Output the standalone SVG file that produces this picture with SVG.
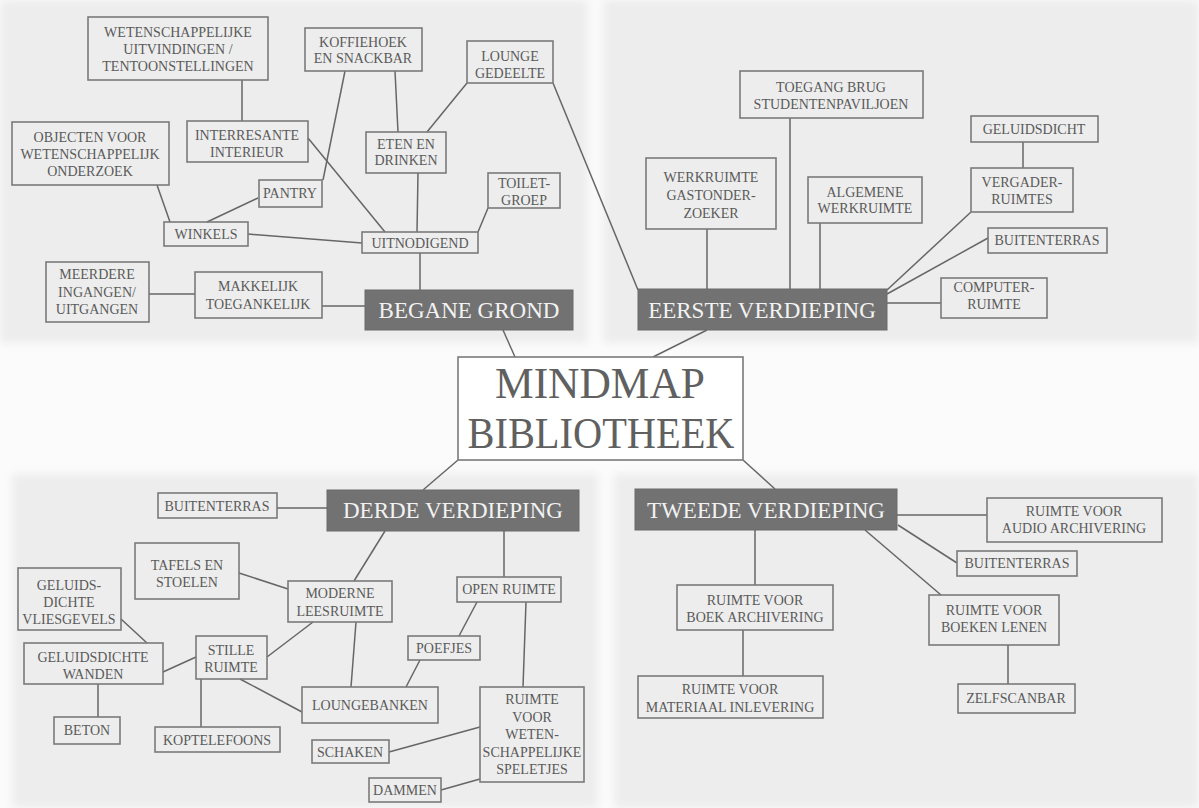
<svg xmlns="http://www.w3.org/2000/svg" width="1199" height="808" viewBox="0 0 1199 808">
<defs>
<filter id="soft" x="-5%" y="-5%" width="110%" height="110%"><feGaussianBlur stdDeviation="4"/></filter>
<style>
.bx{fill:none;stroke:#7a7a7a;stroke-width:1.6}
.dk{fill:#727272;stroke:#6a6a6a;stroke-width:1}
.t{font-family:"Liberation Serif",serif;font-size:14px;fill:#5a5a5a;text-anchor:middle}
.tk{font-family:"Liberation Serif",serif;font-size:23px;fill:#f2f2f2;text-anchor:middle}
.tm{font-family:"Liberation Serif",serif;font-size:44px;fill:#606060;text-anchor:middle}
#connectors line{stroke:#666;stroke-width:1.5}
</style>
</defs>
<rect x="0" y="0" width="1199" height="808" fill="#fbfbfb"/>
<g id="panels" filter="url(#soft)" fill="#ededed">
<rect x="0" y="0" width="588" height="343"/>
<rect x="603" y="0" width="596" height="343"/>
<rect x="12" y="474" width="586" height="334"/>
<rect x="614" y="474" width="585" height="334"/>
</g>
<g id="connectors">
<line x1="242" y1="80" x2="242" y2="121"/>
<line x1="157" y1="185" x2="170" y2="222"/>
<line x1="258" y1="198" x2="207" y2="222"/>
<line x1="248" y1="234" x2="362" y2="243"/>
<line x1="149" y1="294" x2="195" y2="294"/>
<line x1="322" y1="306" x2="365" y2="306"/>
<line x1="345" y1="71" x2="323" y2="180"/>
<line x1="395" y1="71" x2="398" y2="132"/>
<line x1="467" y1="83" x2="427" y2="132"/>
<line x1="308" y1="138" x2="385" y2="232"/>
<line x1="418" y1="173" x2="417" y2="232"/>
<line x1="488" y1="208" x2="478" y2="232"/>
<line x1="420" y1="253" x2="420" y2="290"/>
<line x1="553" y1="83" x2="638" y2="290"/>
<line x1="503" y1="330" x2="515" y2="357"/>
<line x1="707" y1="229" x2="707" y2="289"/>
<line x1="790" y1="118" x2="790" y2="289"/>
<line x1="820" y1="223" x2="820" y2="289"/>
<line x1="1023" y1="142" x2="1023" y2="168"/>
<line x1="971" y1="212" x2="887" y2="290"/>
<line x1="988" y1="238" x2="887" y2="294"/>
<line x1="941" y1="303" x2="887" y2="303"/>
<line x1="707" y1="330" x2="653" y2="357"/>
<line x1="458" y1="460" x2="423" y2="490"/>
<line x1="743" y1="460" x2="775" y2="489"/>
<line x1="277" y1="508" x2="327" y2="508"/>
<line x1="239" y1="573" x2="288" y2="589"/>
<line x1="121" y1="619" x2="147" y2="643"/>
<line x1="163" y1="672" x2="196" y2="657"/>
<line x1="267" y1="657" x2="313" y2="622"/>
<line x1="98" y1="684" x2="98" y2="717"/>
<line x1="201" y1="679" x2="201" y2="727"/>
<line x1="240" y1="679" x2="302" y2="712"/>
<line x1="385" y1="531" x2="354" y2="581"/>
<line x1="504" y1="531" x2="504" y2="577"/>
<line x1="477" y1="602" x2="459" y2="636"/>
<line x1="420" y1="660" x2="406" y2="687"/>
<line x1="356" y1="622" x2="351" y2="687"/>
<line x1="526" y1="602" x2="523" y2="687"/>
<line x1="480" y1="727" x2="389" y2="752"/>
<line x1="480" y1="779" x2="441" y2="790"/>
<line x1="755" y1="530" x2="755" y2="585"/>
<line x1="743" y1="630" x2="743" y2="676"/>
<line x1="897" y1="515" x2="987" y2="515"/>
<line x1="898" y1="525" x2="957" y2="563"/>
<line x1="865" y1="530" x2="941" y2="595"/>
<line x1="1008" y1="645" x2="1008" y2="684"/>
</g>

<g id="wetenschappelijke"><rect class="bx" x="88" y="17" width="180" height="63"/><text class="t" x="178" y="37">WETENSCHAPPELIJKE</text><text class="t" x="178" y="54">UITVINDINGEN /</text><text class="t" x="178" y="71">TENTOONSTELLINGEN</text></g>
<g id="objecten"><rect class="bx" x="12" y="122" width="157" height="63"/><text class="t" x="90" y="142">OBJECTEN VOOR</text><text class="t" x="90" y="159">WETENSCHAPPELIJK</text><text class="t" x="90" y="176">ONDERZOEK</text></g>
<g id="interessante"><rect class="bx" x="187" y="121" width="121" height="41"/><text class="t" x="247" y="140">INTERRESANTE</text><text class="t" x="247" y="157">INTERIEUR</text></g>
<g id="pantry"><rect class="bx" x="259" y="180" width="63" height="27"/><text class="t" x="290" y="198">PANTRY</text></g>
<g id="winkels"><rect class="bx" x="164" y="222" width="84" height="24"/><text class="t" x="206" y="239">WINKELS</text></g>
<g id="meerdere"><rect class="bx" x="46" y="262" width="103" height="60"/><text class="t" x="97" y="279">MEERDERE</text><text class="t" x="97" y="297">INGANGEN/</text><text class="t" x="97" y="314">UITGANGEN</text></g>
<g id="makkelijk"><rect class="bx" x="195" y="272" width="127" height="46"/><text class="t" x="258" y="291">MAKKELIJK</text><text class="t" x="258" y="309">TOEGANKELIJK</text></g>
<g id="koffiehoek"><rect class="bx" x="305" y="28" width="117" height="43"/><text class="t" x="363" y="47">KOFFIEHOEK</text><text class="t" x="363" y="63">EN SNACKBAR</text></g>
<g id="lounge"><rect class="bx" x="467" y="41" width="86" height="42"/><text class="t" x="510" y="61">LOUNGE</text><text class="t" x="510" y="78">GEDEELTE</text></g>
<g id="eten"><rect class="bx" x="366" y="132" width="80" height="41"/><text class="t" x="406" y="149">ETEN EN</text><text class="t" x="406" y="165">DRINKEN</text></g>
<g id="toilet"><rect class="bx" x="488" y="173" width="72" height="35"/><text class="t" x="524" y="188">TOILET-</text><text class="t" x="524" y="205">GROEP</text></g>
<g id="uitnodigend"><rect class="bx" x="362" y="232" width="116" height="21"/><text class="t" x="420" y="248">UITNODIGEND</text></g>
<g id="begane"><rect class="dk" x="365" y="290" width="208" height="40"/><text class="tk" x="469" y="318">BEGANE GROND</text></g>

<g id="eerste"><rect class="dk" x="638" y="289" width="249" height="41"/><text class="tk" x="762" y="318">EERSTE VERDIEPING</text></g>
<g id="toegang"><rect class="bx" x="740" y="71" width="183" height="47"/><text class="t" x="831" y="92">TOEGANG BRUG</text><text class="t" x="831" y="109">STUDENTENPAVILJOEN</text></g>
<g id="werkruimte"><rect class="bx" x="646" y="158" width="130" height="71"/><text class="t" x="711" y="182">WERKRUIMTE</text><text class="t" x="711" y="200">GASTONDER-</text><text class="t" x="711" y="218">ZOEKER</text></g>
<g id="algemene"><rect class="bx" x="808" y="177" width="114" height="46"/><text class="t" x="865" y="197">ALGEMENE</text><text class="t" x="865" y="213">WERKRUIMTE</text></g>
<g id="geluidsdicht"><rect class="bx" x="971" y="116" width="127" height="26"/><text class="t" x="1034" y="134">GELUIDSDICHT</text></g>
<g id="vergader"><rect class="bx" x="971" y="168" width="102" height="44"/><text class="t" x="1022" y="187">VERGADER-</text><text class="t" x="1022" y="204">RUIMTES</text></g>
<g id="buitenterras1"><rect class="bx" x="988" y="228" width="119" height="25"/><text class="t" x="1047" y="245">BUITENTERRAS</text></g>
<g id="computer"><rect class="bx" x="941" y="278" width="106" height="40"/><text class="t" x="994" y="292">COMPUTER-</text><text class="t" x="994" y="309">RUIMTE</text></g>

<g id="mindmap"><rect x="458" y="357" width="285" height="103" fill="#ffffff" stroke="#7a7a7a" stroke-width="1.6"/><text class="tm" x="600" y="398" textLength="210" lengthAdjust="spacingAndGlyphs">MINDMAP</text><text class="tm" x="601" y="448" textLength="267" lengthAdjust="spacingAndGlyphs">BIBLIOTHEEK</text></g>

<g id="derde"><rect class="dk" x="327" y="490" width="252" height="41"/><text class="tk" x="453" y="518">DERDE VERDIEPING</text></g>
<g id="buitenterras2"><rect class="bx" x="158" y="493" width="119" height="25"/><text class="t" x="217" y="511">BUITENTERRAS</text></g>
<g id="tafels"><rect class="bx" x="135" y="543" width="104" height="56"/><text class="t" x="187" y="570">TAFELS EN</text><text class="t" x="187" y="587">STOELEN</text></g>
<g id="vliesgevels"><rect class="bx" x="18" y="568" width="103" height="62"/><text class="t" x="69" y="590">GELUIDS-</text><text class="t" x="69" y="607">DICHTE</text><text class="t" x="69" y="624">VLIESGEVELS</text></g>
<g id="wanden"><rect class="bx" x="24" y="643" width="139" height="41"/><text class="t" x="93" y="662">GELUIDSDICHTE</text><text class="t" x="93" y="679">WANDEN</text></g>
<g id="stille"><rect class="bx" x="196" y="636" width="71" height="43"/><text class="t" x="231" y="655">STILLE</text><text class="t" x="231" y="672">RUIMTE</text></g>
<g id="beton"><rect class="bx" x="54" y="717" width="66" height="27"/><text class="t" x="87" y="735">BETON</text></g>
<g id="koptelefoons"><rect class="bx" x="155" y="727" width="125" height="25"/><text class="t" x="217" y="745">KOPTELEFOONS</text></g>
<g id="moderne"><rect class="bx" x="288" y="581" width="104" height="41"/><text class="t" x="340" y="598">MODERNE</text><text class="t" x="340" y="616">LEESRUIMTE</text></g>
<g id="open"><rect class="bx" x="457" y="577" width="104" height="25"/><text class="t" x="509" y="594">OPEN RUIMTE</text></g>
<g id="poefjes"><rect class="bx" x="408" y="636" width="72" height="24"/><text class="t" x="444" y="653">POEFJES</text></g>
<g id="loungebanken"><rect class="bx" x="302" y="687" width="136" height="36"/><text class="t" x="370" y="710">LOUNGEBANKEN</text></g>
<g id="speletjes"><rect class="bx" x="480" y="687" width="104" height="95"/><text class="t" x="532" y="704">RUIMTE</text><text class="t" x="532" y="722">VOOR</text><text class="t" x="532" y="739">WETEN-</text><text class="t" x="532" y="757">SCHAPPELIJKE</text><text class="t" x="532" y="774">SPELETJES</text></g>
<g id="schaken"><rect class="bx" x="312" y="740" width="77" height="23"/><text class="t" x="350" y="757">SCHAKEN</text></g>
<g id="dammen"><rect class="bx" x="369" y="778" width="72" height="24"/><text class="t" x="405" y="795">DAMMEN</text></g>

<g id="tweede"><rect class="dk" x="635" y="489" width="262" height="41"/><text class="tk" x="766" y="518">TWEEDE VERDIEPING</text></g>
<g id="boekarchivering"><rect class="bx" x="677" y="585" width="156" height="45"/><text class="t" x="755" y="605">RUIMTE VOOR</text><text class="t" x="755" y="622">BOEK ARCHIVERING</text></g>
<g id="materiaal"><rect class="bx" x="638" y="676" width="185" height="42"/><text class="t" x="730" y="694">RUIMTE VOOR</text><text class="t" x="730" y="712">MATERIAAL INLEVERING</text></g>
<g id="audio"><rect class="bx" x="987" y="498" width="175" height="44"/><text class="t" x="1074" y="516">RUIMTE VOOR</text><text class="t" x="1074" y="533">AUDIO ARCHIVERING</text></g>
<g id="buitenterras3"><rect class="bx" x="957" y="551" width="120" height="25"/><text class="t" x="1017" y="568">BUITENTERRAS</text></g>
<g id="boekenlenen"><rect class="bx" x="929" y="595" width="130" height="50"/><text class="t" x="994" y="615">RUIMTE VOOR</text><text class="t" x="994" y="632">BOEKEN LENEN</text></g>
<g id="zelfscanbar"><rect class="bx" x="958" y="684" width="117" height="29"/><text class="t" x="1016" y="703">ZELFSCANBAR</text></g>
</svg>
